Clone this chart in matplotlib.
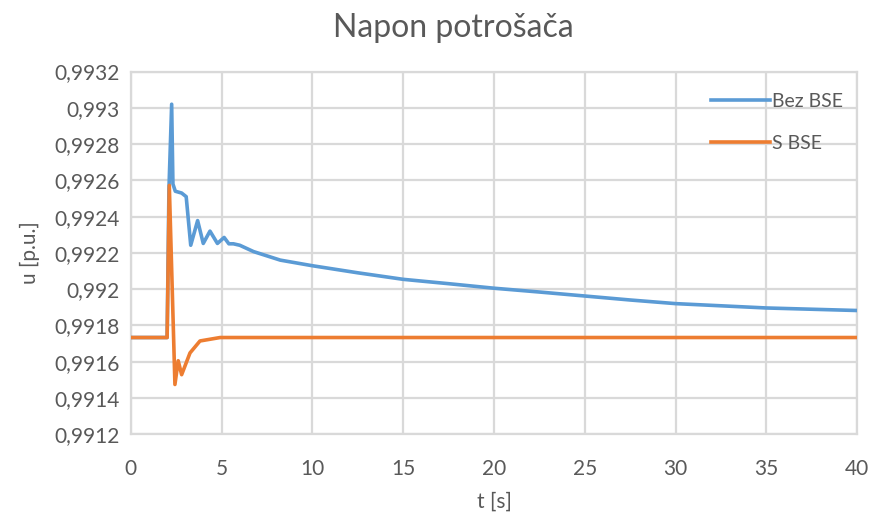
import matplotlib
matplotlib.use("Agg")
import matplotlib.pyplot as plt
from matplotlib.ticker import FuncFormatter, MultipleLocator

# Data
t_bez = [0, 2.0, 2.1, 2.25, 2.32, 2.45, 2.8, 3.05, 3.3, 3.68, 3.99, 4.36, 4.77, 5.14,
         5.4, 5.65, 6.0, 6.76, 8.23, 10, 12.5, 15, 17.5, 20, 22.5, 25, 27.5, 30, 35, 40]
u_bez = [0.991733, 0.991733, 0.99255, 0.99302, 0.99258, 0.99254, 0.99253, 0.99251,
         0.992242, 0.992378, 0.992252, 0.99232, 0.992252, 0.992285, 0.99225, 0.99225,
         0.992242, 0.992207, 0.99216, 0.992129, 0.99209, 0.992054, 0.99203, 0.992005,
         0.991984, 0.991962, 0.99194, 0.99192, 0.991896, 0.991882]

t_s = [0, 2.0, 2.12, 2.43, 2.61, 2.8, 3.26, 3.81, 4.92, 40]
u_s = [0.991733, 0.991733, 0.992572, 0.991474, 0.991605, 0.991528, 0.991648,
       0.991714, 0.991733, 0.991733]

series_labels = ["Bez BSE", "S BSE"]
title = "Napon potrošača"
xlabel = "t [s]"
ylabel = "u [p.u.]"

plt.rcParams['font.family'] = ['Lato', 'DejaVu Sans']
txt = '#595959'
grid_c = '#d9d9d9'

fig = plt.figure(figsize=(8.72, 5.15), dpi=100)
ax = fig.add_axes([0.150, 0.157, 0.833, 0.704])

ax.plot(t_bez, u_bez, color='#5B9BD5', lw=2.6, label=series_labels[0], zorder=3,
        solid_joinstyle='round')
ax.plot(t_s, u_s, color='#ED7D31', lw=2.6, label=series_labels[1], zorder=3,
        solid_joinstyle='round')

ax.set_xlim(0, 40)
ax.set_ylim(0.9912, 0.9932)
ax.xaxis.set_major_locator(MultipleLocator(5))
ax.yaxis.set_major_locator(MultipleLocator(0.0002))
ax.yaxis.set_major_formatter(FuncFormatter(
    lambda v, p: f"{v:.4f}".rstrip('0').rstrip('.').replace('.', ',')))
ax.xaxis.set_major_formatter(FuncFormatter(lambda v, p: f"{v:.0f}"))

ax.grid(True, color=grid_c, lw=1.6, zorder=0)
for s in ax.spines.values():
    s.set_color(grid_c)
    s.set_linewidth(1.6)
ax.tick_params(length=0, colors=txt, labelsize=15)
ax.tick_params(axis='x', pad=18)
ax.tick_params(axis='y', pad=8)

fig.text(0.52, 0.945, title, fontsize=23, color=txt, ha='center', va='center')
ax.set_xlabel(xlabel, fontsize=15, color=txt, labelpad=9)
ax.set_ylabel(ylabel, fontsize=15, color=txt, labelpad=10)

leg = ax.legend(loc='upper left', bbox_to_anchor=(0.775, 0.99), frameon=False,
                fontsize=14, handlelength=3.0, handletextpad=0.15, labelspacing=1.3,
                labelcolor=txt)

fig.savefig("out.png", dpi=100)
